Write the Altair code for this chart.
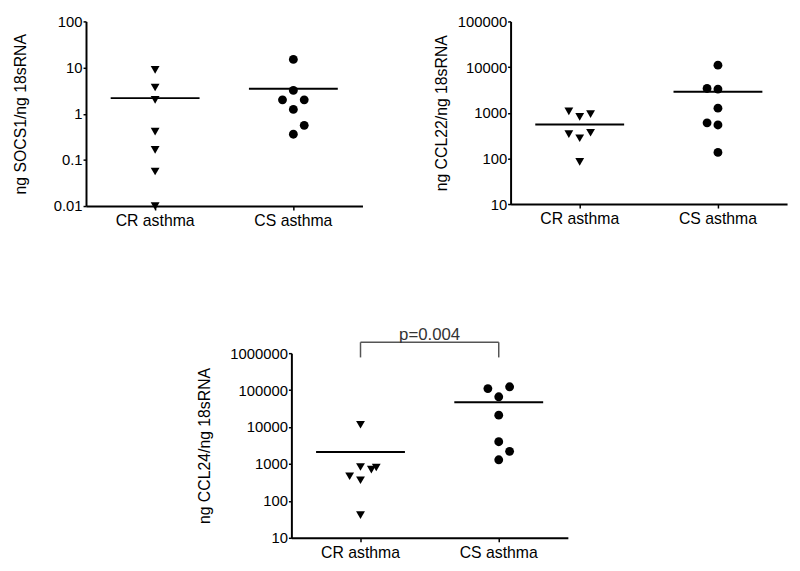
import altair as alt
import pandas as pd

CATS = ["CR asthma", "CS asthma"]

# Panel 1: SOCS1
socs1_cr = [8.9, 3.7, 2.0, 0.41, 0.165, 0.056, 0.01]
socs1_cr_col = [0, 0, 0, 0, 0, 0, 0]
socs1_cs = [15, 3.2, 2.0, 2.0, 1.24, 0.56, 0.36]
socs1_cs_col = [0, 0, -1, 1, 0, 1, 0]

# Panel 2: CCL22
ccl22_cr = [1070, 810, 930, 340, 277, 365, 84]
ccl22_cr_col = [-1, 0, 1, -1, 0, 1, 0]
ccl22_cs = [11000, 3400, 3300, 1260, 600, 540, 135]
ccl22_cs_col = [0, -1, 0, 0, -1, 0, 0]

# Panel 3: CCL24
ccl24_cr = [11500, 830, 705, 800, 465, 363, 41]
ccl24_cr_col = [0, 0, 1, 1.45, -1, 0, 0]
ccl24_cs = [110000, 123000, 66000, 21000, 4000, 2200, 1300]
ccl24_cs_col = [-1, 1, 0, 0, 0, 1, 0]

P_TEXT = "p=0.004"

FONT = "Liberation Sans"
W = 280
BAND = W / len(CATS)
JIT = 11


def make_df(cr, cr_col, cs, cs_col):
    rows = []
    for v, c in zip(cr, cr_col):
        rows.append({"group": CATS[0], "value": v, "col": c})
    for v, c in zip(cs, cs_col):
        rows.append({"group": CATS[1], "value": v, "col": c})
    return pd.DataFrame(rows)


def panel(df, title, domain, height, title_pad, bracket=False):
    yvals = []
    v = domain[0]
    while v <= domain[1] * 1.0001:
        yvals.append(v)
        v *= 10
    xenc = alt.X(
        "group:N",
        scale=alt.Scale(type="band", domain=CATS, paddingInner=0, paddingOuter=0),
        axis=alt.Axis(
            title=None, labelAngle=0, labelFont=FONT, labelFontSize=16,
            labelColor="black", domainColor="black", domainWidth=2,
            tickColor="black", tickSize=4, tickWidth=1.5, labelPadding=3,
        ),
    )
    yscale = alt.Scale(type="log", domain=domain)
    yenc = alt.Y(
        "value:Q",
        scale=yscale,
        axis=alt.Axis(
            title=title, values=yvals, format="~f", grid=False,
            labelFont=FONT, labelFontSize=15, labelColor="black",
            titleFont=FONT, titleFontSize=16, titleFontWeight="normal",
            titleColor="black", titlePadding=title_pad,
            domainColor="black", domainWidth=2, tickColor="black",
            tickSize=3, tickWidth=1.5, labelPadding=1,
        ),
    )
    base = alt.Chart(df)
    points = base.mark_point(filled=True, opacity=1, color="black", size=80).encode(
        x=xenc,
        xOffset=alt.XOffset(
            "col:Q",
            scale=alt.Scale(domain=[-1, 1], range=[BAND / 2 - JIT, BAND / 2 + JIT]),
        ),
        y=yenc,
        shape=alt.Shape(
            "group:N",
            scale=alt.Scale(domain=CATS, range=["triangle-down", "circle"]),
            legend=None,
        ),
    )
    means = base.mark_tick(color="black", thickness=2, size=90).encode(
        x=alt.X("group:N"),
        y=alt.Y("mean(value):Q"),
    )
    layers = [points, means]
    if bracket:
        top = domain[1] * 10 ** 0.295
        leg_bottom = domain[1] * 10 ** (-0.115)
        bdf = pd.DataFrame({
            "group": CATS,
            "g2": [CATS[1], CATS[1]],
            "top": [top, top],
            "bot": [leg_bottom, leg_bottom],
        })
        bcol = "#555555"
        hline = alt.Chart(bdf.iloc[[0]]).mark_rule(color=bcol, strokeWidth=1.5).encode(
            x="group:N", x2="g2:N", y="top:Q"
        )
        legs = alt.Chart(bdf).mark_rule(color=bcol, strokeWidth=1.5).encode(
            x="group:N", y="top:Q", y2="bot:Q"
        )
        tdf = pd.DataFrame({"label": [P_TEXT], "ty": [domain[1] * 10 ** 0.5]})
        txt = alt.Chart(tdf).mark_text(
            font=FONT, fontSize=17, color="#333333", baseline="middle", align="center"
        ).encode(x=alt.value(W / 2), y="ty:Q", text="label:N")
        layers += [hline, legs, txt]
    return alt.layer(*layers).properties(width=W, height=height)


p1 = panel(make_df(socs1_cr, socs1_cr_col, socs1_cs, socs1_cs_col),
           "ng SOCS1/ng 18sRNA", [0.01, 100], 187, 25)
p2 = panel(make_df(ccl22_cr, ccl22_cr_col, ccl22_cs, ccl22_cs_col),
           "ng CCL22/ng 18sRNA", [10, 100000], 185, 8)
p3 = panel(make_df(ccl24_cr, ccl24_cr_col, ccl24_cs, ccl24_cs_col),
           "ng CCL24/ng 18sRNA", [10, 1000000], 187, 18, bracket=True)

spacer = alt.Chart(pd.DataFrame({"a": [0]})).mark_point(opacity=0).encode(
    x=alt.value(0), y=alt.value(0)
).properties(width=111, height=10)

top_row = alt.hconcat(p1, p2, spacing=71)
bottom_row = alt.hconcat(spacer, p3, spacing=0)

chart = alt.vconcat(top_row, bottom_row, spacing=98).configure_view(
    strokeWidth=0
).properties(padding={"left": 4, "top": 3, "right": 5, "bottom": 5})

chart.save("out.html", embed_options={"renderer": "svg", "actions": False})
